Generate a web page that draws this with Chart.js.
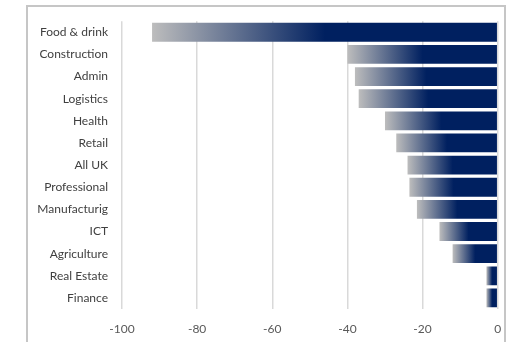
<!DOCTYPE html>
<html>
<head>
<meta charset="utf-8">
<script src="https://cdn.jsdelivr.net/npm/chart.js@4.4.1/dist/chart.umd.min.js"></script>
<style>
  html, body { margin: 0; padding: 0; background: #ffffff; }
  #wrap { position: relative; width: 510px; height: 342px; }
</style>
</head>
<body>
<div id="wrap"><canvas id="c" width="510" height="342"></canvas></div>
<script>
// Sectors, top to bottom
const categories = ['Food & drink', 'Construction', 'Admin', 'Logistics', 'Health', 'Retail',
  'All UK', 'Professional', 'Manufacturig', 'ICT', 'Agriculture', 'Real Estate', 'Finance'];
// Change by sector
const values = [-92, -40, -38, -37, -30, -27, -24, -23.5, -21.5, -15.5, -12, -3, -3];
// Value axis ticks
const tickValues = [-100, -80, -60, -40, -20, 0];

const GREY = '#bdbdbd';
const NAVY = '#002060';

// Grey-to-navy fill running across each bar from its outer end
function barFill(ctx) {
  const chart = ctx.chart;
  const x = chart.scales && chart.scales.x;
  if (!chart.chartArea || !x || ctx.type !== 'data') return NAVY;
  const v = ctx.raw;
  const left = x.getPixelForValue(Math.min(v, 0));
  const right = x.getPixelForValue(Math.max(v, 0));
  if (right - left < 1) return NAVY;
  const g = chart.ctx.createLinearGradient(left, 0, right, 0);
  g.addColorStop(0, GREY);
  g.addColorStop(0.5, NAVY);
  g.addColorStop(1, NAVY);
  return g;
}

// Light outer frame around the chart
const framePlugin = {
  id: 'frame',
  beforeDraw(chart) {
    const c = chart.ctx;
    c.save();
    c.fillStyle = '#ffffff';
    c.fillRect(0, 0, chart.width, chart.height);
    c.strokeStyle = '#c6c6c6';
    c.lineWidth = 2;
    c.beginPath();
    c.moveTo(27, chart.height + 2);
    c.lineTo(27, 6);
    c.lineTo(505, 6);
    c.lineTo(505, chart.height + 2);
    c.stroke();
    c.restore();
  }
};

new Chart(document.getElementById('c'), {
  type: 'bar',
  data: {
    labels: categories,
    datasets: [{
      data: values,
      backgroundColor: barFill,
      borderWidth: 0,
      barPercentage: 0.85,
      categoryPercentage: 1.0
    }]
  },
  plugins: [framePlugin],
  options: {
    indexAxis: 'y',
    responsive: false,
    animation: false,
    devicePixelRatio: 1,
    layout: { padding: { top: 21, right: 12.3, bottom: 0, left: 0 } },
    plugins: { legend: { display: false }, tooltip: { enabled: false } },
    scales: {
      x: {
        min: -100,
        max: 0,
        afterBuildTicks(scale) { scale.ticks = tickValues.map(v => ({ value: v })); },
        afterFit(scale) {
          scale.height = 33;
          scale.paddingRight = 0;
        },
        grid: { color: '#d9d9d9', lineWidth: 1.5, drawTicks: false },
        border: { display: false },
        ticks: {
          padding: 13,
          color: '#595959',
          font: { family: 'Lato', size: 12 },
          maxRotation: 0
        }
      },
      y: {
        afterFit(scale) { scale.width = 122; },
        grid: { display: false, drawTicks: false },
        border: { display: false },
        ticks: {
          padding: 14,
          color: '#404040',
          font: { family: 'Lato', size: 12 },
          autoSkip: false
        }
      }
    }
  }
});
</script>
</body>
</html>
